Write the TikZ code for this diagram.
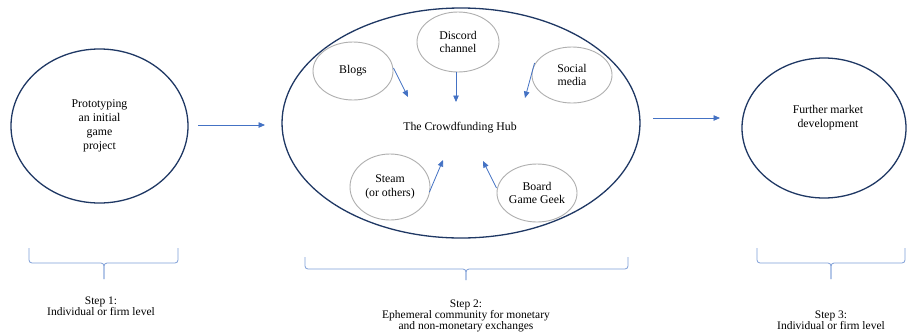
\documentclass[tikz,border=0pt]{standalone}
\usepackage{fontspec}
\setmainfont{Liberation Serif}
\usetikzlibrary{shapes.geometric,arrows.meta}
\definecolor{navy}{HTML}{1F3864}
\definecolor{softgray}{HTML}{AFAFAF}
\definecolor{arrowblue}{HTML}{4472C4}
\definecolor{braceblue}{HTML}{7F9FD8}
\tikzset{
  bigell/.style={ellipse, draw=navy, line width=1.3pt, inner sep=0pt, align=center, font=\fontsize{11.8}{14}\selectfont},
  smallell/.style={ellipse, draw=softgray, line width=0.9pt, inner sep=0pt, align=center, font=\fontsize{11.8}{13.5}\selectfont},
  conn/.style={draw=arrowblue, line width=0.8pt, -{Triangle[length=6.5pt,width=5.5pt]}},
  bracket/.style={draw=braceblue, line width=0.8pt, rounded corners=3pt},
  lbl/.style={align=center, font=\fontsize{11.5}{11.1}\selectfont, inner sep=0pt},
  plain/.style={align=center, font=\fontsize{11.8}{14}\selectfont, inner sep=0pt}
}
\begin{document}
\begin{tikzpicture}[x=1pt,y=-1pt]
\useasboundingbox (0,0) rectangle (908,333);
\fill[white] (0,0) rectangle (908,333);

% big ellipses
\node[bigell, minimum width=177pt, minimum height=154pt] (proto) at (99.5,126) {Prototyping\\an initial\\game\\project};
\node[bigell, minimum width=358pt, minimum height=230pt] (hub) at (461,123) {};
\node[bigell, minimum width=164pt, minimum height=140pt] (further) at (824,128) {};
\node[plain] (furthertxt) at (828,118) {Further market\\development};
\node[plain] (hubtxt) at (460,128) {The Crowdfunding Hub};

% small ellipses
\node[smallell, minimum width=80pt, minimum height=58pt] (blogs) at (353,71) {Blogs};
\node[smallell, minimum width=82pt, minimum height=60pt] (discord) at (458,42) {Discord\\channel};
\node[smallell, minimum width=80pt, minimum height=56pt] (social) at (572,75) {Social\\media};
\node[smallell, minimum width=80pt, minimum height=66pt] (steam) at (390,187) {Steam\\(or others)};
\node[smallell, minimum width=80pt, minimum height=58pt] (bgg) at (537,193) {Board\\Game Geek};

% arrow end coordinates
\coordinate (a1s) at (198,125);
\coordinate (a1e) at (265,125);
\coordinate (a2s) at (653,118);
\coordinate (a2e) at (720,118);
\coordinate (tblogs) at (408,97);
\coordinate (tdisc) at (456,102);
\coordinate (tsoc) at (525,98);
\coordinate (tsteam) at (443,160);
\coordinate (tbgg) at (483,161);

\draw[conn] (a1s) -- (a1e);
\draw[conn] (a2s) -- (a2e);
\draw[conn] (blogs.east) ++(0,-3) -- (tblogs);
\draw[conn] (discord.south) ++(-2,0) -- (tdisc);
\draw[conn] (social.west) ++(3,-12) -- (tsoc);
\draw[conn] (steam.east) ++(-1,5) -- (tsteam);
\draw[conn] (bgg.west) ++(0,-5) -- (tbgg);

% brackets
\draw[bracket] (29,248) -- (29,263) -- (104,263) -- (104,279);
\draw[bracket] (104,279) -- (104,263) -- (178,263) -- (178,248);
\draw[bracket] (305,257) -- (305,269) -- (466,269) -- (466,280);
\draw[bracket] (466,280) -- (466,269) -- (628,269) -- (628,257);
\draw[bracket] (757,248) -- (757,263) -- (831,263) -- (831,279);
\draw[bracket] (831,279) -- (831,263) -- (905,263) -- (905,248);

% labels
\node[lbl] (step1) at (101,306.5) {Step 1:\\Individual or firm level};
\node[lbl] (step2) at (466,316) {Step 2:\\Ephemeral community for monetary\\and non-monetary exchanges};
\node[lbl] (step3) at (831,320.5) {Step 3:\\Individual or firm level};
\end{tikzpicture}
\end{document}
